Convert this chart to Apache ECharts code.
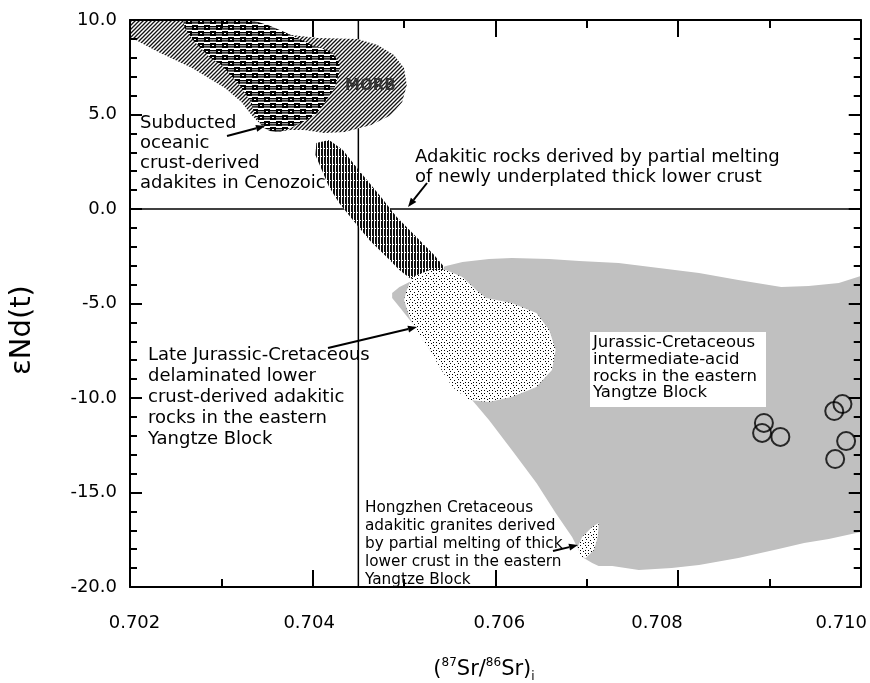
<!DOCTYPE html>
<html><head><meta charset="utf-8">
<script src="https://cdn.jsdelivr.net/npm/echarts@6/dist/echarts.min.js"></script>
<style>html,body{margin:0;padding:0;background:#fff}#c{width:870px;height:683px}</style>
</head><body><div id="c"></div>
<script>
// ---------- data ----------
const xTickLabels = ['0.702','0.704','0.706','0.708','0.710'];
const yTickLabels = ['-20.0','-15.0','-10.0','-5.0','0.0','5.0','10.0'];
const refSr = 0.7045;   // vertical reference line
const refNd = 0.0;      // horizontal reference line

// Jurassic-Cretaceous intermediate-acid rocks field (grey)
const grayRegion = [[0.70487,-4.71],[0.70487,-4.44],[0.70495,-4.13],[0.70506,-3.86],[0.70528,-3.33],[0.70546,-3.02],[0.70564,-2.80],[0.70593,-2.65],[0.70618,-2.59],[0.70659,-2.65],[0.70692,-2.75],[0.70735,-2.86],[0.70779,-3.12],[0.70823,-3.39],[0.70866,-3.76],[0.70913,-4.13],[0.70943,-4.07],[0.70976,-3.92],[0.71000,-3.54],[0.71000,-17.09],[0.70965,-17.46],[0.70938,-17.67],[0.70910,-17.99],[0.70866,-18.47],[0.70823,-18.84],[0.70793,-18.99],[0.70757,-19.10],[0.70728,-18.89],[0.70713,-18.89],[0.70706,-18.73],[0.70695,-18.41],[0.70684,-17.35],[0.70666,-16.08],[0.70645,-14.50],[0.70618,-12.75],[0.70593,-11.16],[0.70568,-9.74],[0.70546,-8.68],[0.70528,-7.46],[0.70509,-6.03],[0.70495,-5.19]];
// Adakitic rocks from newly underplated lower crust (dark ellipse)
const underplatedEllipse = [[0.70404,3.49],[0.70418,3.65],[0.70433,3.12],[0.70453,1.90],[0.70473,0.74],[0.70492,-0.42],[0.70506,-1.11],[0.70520,-1.80],[0.70533,-2.43],[0.70544,-3.07],[0.70541,-3.44],[0.70528,-3.70],[0.70509,-3.76],[0.70495,-3.23],[0.70481,-2.54],[0.70462,-1.64],[0.70444,-0.58],[0.70429,0.32],[0.70418,1.16],[0.70410,2.06],[0.70403,2.86]];
// Late Jurassic-Cretaceous delaminated lower crust adakitic rocks (dotted)
const lateJurassicBlob = [[0.70503,-4.29],[0.70509,-3.60],[0.70528,-3.23],[0.70546,-3.23],[0.70564,-3.60],[0.70579,-4.29],[0.70590,-4.71],[0.70618,-4.97],[0.70645,-5.50],[0.70659,-6.40],[0.70666,-7.46],[0.70662,-8.52],[0.70645,-9.42],[0.70618,-9.95],[0.70593,-10.21],[0.70571,-10.11],[0.70553,-9.42],[0.70539,-8.36],[0.70528,-7.46],[0.70513,-6.40],[0.70506,-5.71],[0.70500,-4.81]];
// MORB field (hatched)
const morbField = [[0.70200,10.00],[0.70333,10.00],[0.70351,9.58],[0.70377,9.21],[0.70405,9.05],[0.70449,8.99],[0.70471,8.68],[0.70489,8.15],[0.70500,7.46],[0.70503,6.56],[0.70498,5.66],[0.70486,4.97],[0.70464,4.44],[0.70435,4.07],[0.70413,4.02],[0.70391,4.18],[0.70375,4.18],[0.70362,4.07],[0.70347,4.29],[0.70333,4.97],[0.70322,5.66],[0.70304,6.40],[0.70268,7.46],[0.70231,8.31],[0.70200,9.10]];
// Subducted oceanic crust-derived adakites in Cenozoic
const cenozoicAdakites = [[0.70258,10.00],[0.70331,10.00],[0.70340,9.89],[0.70351,9.74],[0.70369,9.37],[0.70383,9.05],[0.70399,8.68],[0.70421,8.31],[0.70429,7.72],[0.70429,7.20],[0.70424,6.40],[0.70415,5.77],[0.70405,5.08],[0.70393,4.71],[0.70378,4.34],[0.70364,4.07],[0.70353,4.13],[0.70345,4.34],[0.70337,4.97],[0.70331,5.77],[0.70320,6.56],[0.70312,6.98],[0.70300,7.62],[0.70287,8.04],[0.70269,8.94],[0.70260,9.58]];
// Hongzhen Cretaceous adakitic granites
const hongzhenBlob = [[0.70713,-16.61],[0.70706,-16.83],[0.70695,-17.35],[0.70690,-17.88],[0.70694,-18.41],[0.70699,-18.47],[0.70708,-18.04],[0.70712,-17.35],[0.70713,-16.83]];
// samples (open circles)
const sampleSr = [0.70894, 0.70892, 0.70912, 0.70971, 0.70980, 0.70984, 0.70972];
const sampleNd = [-11.32, -11.85, -12.06, -10.69, -10.32, -12.28, -13.23];

// ---------- patterns ----------
function tile(w, h, fn){const c=document.createElement('canvas');c.width=w;c.height=h;const g=c.getContext('2d');fn(g);return {image:c,repeat:'repeat'};}
const hatchFill = tile(4,4,g=>{g.fillStyle='#fff';g.fillRect(0,0,4,4);g.strokeStyle='#111';g.lineWidth=1.3;g.beginPath();g.moveTo(-1,5);g.lineTo(5,-1);g.moveTo(-1,1);g.lineTo(1,-1);g.moveTo(3,5);g.lineTo(5,3);g.stroke();});
const brickFill = tile(12,12,g=>{g.fillStyle='#fff';g.fillRect(0,0,12,12);g.fillStyle='#000';
  g.fillRect(0,1,6,5);g.fillRect(6,2,6,1.4);g.fillRect(6,4.2,6,1.4);
  g.fillRect(6,7,6,5);g.fillRect(0,8,6,1.4);g.fillRect(0,10.2,6,1.4);
  g.fillStyle='#fff';g.fillRect(2,3,2,1);g.fillRect(8,9,2,1);});
const stripeFill = tile(3,8,g=>{g.fillStyle='#111';g.fillRect(0,0,3,8);g.fillStyle='#fff';g.fillRect(2,0,1,8);g.fillRect(0,4,1,1);});
const dotFill = tile(8,8,g=>{g.fillStyle='#fff';g.fillRect(0,0,8,8);g.fillStyle='#000';
  [[1,1],[4,1],[2,3],[6,4],[1,6],[4,6],[7,7]].forEach(p=>g.fillRect(p[0],p[1],1,1));});

function polySeries(points, fill, z){
  return {type:'custom', coordinateSystem:'cartesian2d', clip:true, z:z, silent:true,
    data:[[0.706,0]],
    renderItem:(params, api)=>({type:'polygon', shape:{points: points.map(p=>api.coord(p))}, style:{fill:fill, stroke:null}})};
}

function arrow(x1,y1,x2,y2){
  const dx=x2-x1, dy=y2-y1, L=Math.hypot(dx,dy), ux=dx/L, uy=dy/L, hl=9, hw=3.5;
  const bx=x2-ux*hl, by=y2-uy*hl;
  return [{type:'line', z:101, shape:{x1:x1,y1:y1,x2:bx,y2:by}, style:{stroke:'#000', lineWidth:2}},
          {type:'polygon', z:101, shape:{points:[[x2,y2],[bx-uy*hw,by+ux*hw],[bx+uy*hw,by-ux*hw]]}, style:{fill:'#000'}}];
}

const FF = '"DejaVu Sans"';
const chart = echarts.init(document.getElementById('c'), null, {renderer:'canvas'});
const axisCommon = {
  axisLine:{onZero:false, lineStyle:{color:'#000', width:2}},
  splitLine:{show:false}, minorSplitLine:{show:false}, z:10
};
const xLabelPad = {l0:[0,0,0,9], l1:[0,7,0,0], l2:[0,0,0,8], l3:[0,42,0,0], l4:[0,39,0,0]};
const xRich = {}; Object.keys(xLabelPad).forEach(k=>{xRich[k]={padding:xLabelPad[k], fontSize:18, fontFamily:'DejaVu Sans', color:'#000'};});

const xBase = {type:'value', min:0.702, max:0.710, interval:0.002,
  axisTick:{inside:true, length:17, lineStyle:{color:'#000', width:2}},
  minorTick:{show:true, splitNumber:2, length:8, lineStyle:{color:'#000', width:2}}};
const yBase = {type:'value', min:-20, max:10, interval:5,
  axisTick:{inside:true, length:12, lineStyle:{color:'#000', width:2}},
  minorTick:{show:true, splitNumber:5, length:7, lineStyle:{color:'#000', width:2}}};

const option = {
  animation:false,
  backgroundColor:'#fff',
  grid:{left:130, right:7.5, top:20, bottom:96},
  xAxis:[
    Object.assign({}, axisCommon, xBase, {position:'bottom',
      axisLabel:{margin:27, fontSize:18, fontFamily:'DejaVu Sans', color:'#000',
        formatter:v=>{const i=Math.round((v-0.702)/0.002); return '{l'+i+'|'+xTickLabels[i]+'}';}, rich:xRich}}),
    Object.assign({}, axisCommon, xBase, {position:'top', axisLabel:{show:false}})
  ],
  yAxis:[
    Object.assign({}, axisCommon, yBase, {position:'left',
      axisLabel:{margin:13, fontSize:18, fontFamily:'DejaVu Sans', color:'#000',
        formatter:v=>yTickLabels[Math.round((v+20)/5)]}}),
    Object.assign({}, axisCommon, yBase, {position:'right', axisLabel:{show:false}})
  ],
  series:[
    {type:'line', z:1, symbol:'none', silent:true, lineStyle:{color:'#000', width:1.5},
      data:[[refSr,10],[refSr,-20]]},
    {type:'line', z:1, symbol:'none', silent:true, lineStyle:{color:'#000', width:1.5},
      data:[[0.702,refNd],[0.710,refNd]]},
    polySeries(grayRegion, '#c0c0c0', 2),
    polySeries(underplatedEllipse, stripeFill, 3),
    polySeries(lateJurassicBlob, dotFill, 4),
    polySeries(morbField, hatchFill, 3),
    polySeries(cenozoicAdakites, brickFill, 4),
    polySeries(hongzhenBlob, dotFill, 4),
    {type:'scatter', z:6, symbol:'circle', symbolSize:18,
      itemStyle:{color:'rgba(0,0,0,0)', borderColor:'#000', borderWidth:2},
      data: sampleSr.map((x,i)=>[x, sampleNd[i]])}
  ],
  graphic:[
    {type:'text', z:100, x:22, y:330, rotation:Math.PI/2,
      style:{text:'εNd(t)', font:'29px '+FF, fill:'#000', textAlign:'center', textVerticalAlign:'middle'}},
    {type:'text', z:100, x:484, y:670,
      style:{text:'{a|(}{s|87}{a|Sr/}{s|86}{a|Sr)}{b|i}', textAlign:'center', textVerticalAlign:'middle', fill:'#000',
        rich:{a:{fontSize:21, fontFamily:'DejaVu Sans', lineHeight:26},
              s:{fontSize:12, fontFamily:'DejaVu Sans', lineHeight:14, verticalAlign:'top'},
              b:{fontSize:12, fontFamily:'DejaVu Sans', lineHeight:14, verticalAlign:'bottom'}}}},
    {type:'text', z:100, x:345, y:86,
      style:{text:'MORB', font:'bold 15px '+FF, fill:'#333', textVerticalAlign:'middle'}},
    {type:'text', z:100, x:140, y:113,
      style:{text:'Subducted\noceanic\ncrust-derived\nadakites in Cenozoic', font:'18px '+FF, fill:'#000', lineHeight:20, textVerticalAlign:'top'}},
    {type:'text', z:100, x:415, y:147,
      style:{text:'Adakitic rocks derived by partial melting\nof newly underplated thick lower crust', font:'18px '+FF, fill:'#000', lineHeight:20, textVerticalAlign:'top'}},
    {type:'text', z:100, x:148, y:344.5,
      style:{text:'Late Jurassic-Cretaceous\ndelaminated lower\ncrust-derived adakitic\nrocks in the eastern\nYangtze Block', font:'18px '+FF, fill:'#000', lineHeight:21, textVerticalAlign:'top'}},
    {type:'rect', z:99, shape:{x:590, y:332, width:176, height:75}, style:{fill:'#fff'}},
    {type:'text', z:100, x:593, y:334.6,
      style:{text:'Jurassic-Cretaceous\nintermediate-acid\nrocks in the eastern\nYangtze Block', font:'16.5px '+FF, fill:'#000', lineHeight:16.7, textVerticalAlign:'top'}},
    {type:'text', z:100, x:365, y:499,
      style:{text:'Hongzhen Cretaceous\nadakitic granites derived\nby partial melting of thick\nlower crust in the eastern\nYangtze Block', font:'15.3px '+FF, fill:'#000', lineHeight:18, textVerticalAlign:'top'}}
  ].concat(arrow(227,136,265,126), arrow(427,183,408,207), arrow(328,348,417,327), arrow(553,551,578,545))
};
chart.setOption(option);
</script>
</body></html>
